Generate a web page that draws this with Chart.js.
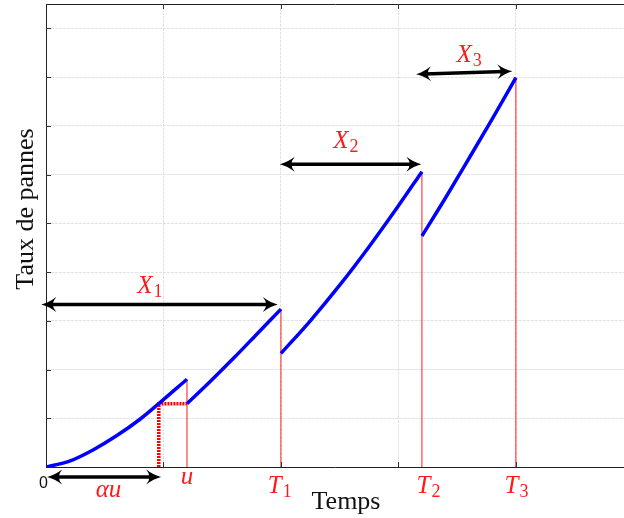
<!DOCTYPE html>
<html>
<head>
<meta charset="utf-8">
<script src="https://cdn.jsdelivr.net/npm/chart.js@4.4.0/dist/chart.umd.min.js"></script>
<style>
  html, body { margin: 0; padding: 0; background: #fff; }
</style>
</head>
<body>
<canvas id="chart" width="624" height="518"></canvas>
<script>
// failure rate between repairs, [time, rate]
const seg1 = [[0, 0], [0.2, 0.12], [0.4, 0.35], [0.6, 0.64], [0.8, 0.98], [0.96, 1.30], [1.2, 1.80]];
const seg2 = [[1.2, 1.30], [1.4, 1.76], [1.6, 2.24], [1.8, 2.74], [2.0, 3.24]];
const seg3 = [[2.0, 2.33], [2.25, 3.0], [2.5, 3.73], [2.75, 4.52], [3.0, 5.36], [3.2, 6.06]];
const seg4 = [[3.2, 4.74], [3.4, 5.52], [3.6, 6.33], [3.8, 7.15], [4.0, 7.99]];

// repair times and the rate reached just before each one
const repairTimes = [1.2, 2.0, 3.2, 4.0];
const repairTops = [1.80, 3.24, 6.06, 7.99];
const alphaU = 0.96;
const alphaLevel = 1.30;

// double arrows: start / end points
const arrowStart = [[-0.04, 3.335], [1.99, 6.21], [3.15, 8.06], [0.01, -0.205]];
const arrowEnd = [[1.973, 3.335], [3.195, 6.21], [3.97, 8.12], [0.98, -0.205]];

// labels under the axis and over the arrows
const tickLabels = [['\u03B1u', ''], ['u', ''], ['T', '1'], ['T', '2'], ['T', '3']];
const tickLabelAt = [[0.532, -0.616], [1.2, -0.355], [1.99, -0.54], [3.256, -0.54], [4.005, -0.54]];
const arrowLabels = [['X', '1'], ['X', '2'], ['X', '3']];
const arrowLabelAt = [[0.884, 3.566], [2.553, 6.54], [3.601, 8.32]];

const xMax = 4.92, yMax = 9.5;

const pts = s => s.map(p => ({ x: p[0], y: p[1] }));

const datasets = [];
[seg1, seg2, seg3, seg4].forEach(s => datasets.push({
  data: pts(s), borderColor: '#0000ff', borderWidth: 3.5, pointRadius: 0,
  cubicInterpolationMode: 'monotone', order: 0
}));
repairTimes.forEach((t, i) => datasets.push({
  data: [{ x: t, y: 0 }, { x: t, y: repairTops[i] }],
  borderColor: '#ff1a1a', borderWidth: 1, pointRadius: 0, order: 1
}));
datasets.push({
  data: [{ x: alphaU, y: 0 }, { x: alphaU, y: alphaLevel }, { x: repairTimes[0], y: alphaLevel }],
  borderColor: '#ff0000', borderWidth: 3.5, borderDash: [2, 1], pointRadius: 0, order: 1
});

function head(ctx, x, y, ang) {
  const L = 15, W = 7.5;
  ctx.save();
  ctx.translate(x, y);
  ctx.rotate(ang);
  ctx.beginPath();
  ctx.moveTo(0, 0);
  ctx.quadraticCurveTo(-L * 0.5, -W * 0.25, -L, -W);
  ctx.quadraticCurveTo(-L * 0.55, 0, -L, W);
  ctx.quadraticCurveTo(-L * 0.5, W * 0.25, 0, 0);
  ctx.fill();
  ctx.restore();
}

function mathLabel(ctx, main, sub, cx, base) {
  ctx.font = 'italic 25px "Liberation Serif"';
  const w1 = ctx.measureText(main).width;
  ctx.font = '18px "Liberation Serif"';
  const w2 = sub ? ctx.measureText(sub).width + 1 : 0;
  const x0 = cx - (w1 + w2) / 2;
  ctx.textAlign = 'left';
  ctx.textBaseline = 'alphabetic';
  ctx.font = 'italic 25px "Liberation Serif"';
  ctx.fillText(main, x0, base);
  if (sub) {
    ctx.font = '18px "Liberation Serif"';
    ctx.fillText(sub, x0 + w1 + 1, base + 4);
  }
}

const extras = {
  id: 'extras',
  afterDraw(chart) {
    const { ctx, chartArea: a, scales: { x, y } } = chart;
    ctx.save();

    // small inward tick marks
    ctx.strokeStyle = '#333';
    ctx.lineWidth = 1;
    ctx.beginPath();
    for (let v = 1; v <= 9; v++) {
      const py = Math.round(y.getPixelForValue(v)) + 0.5;
      ctx.moveTo(a.left, py); ctx.lineTo(a.left + 5, py);
    }
    for (let v = 1; v <= 4; v++) {
      const px = Math.round(x.getPixelForValue(v)) + 0.5;
      ctx.moveTo(px, a.top); ctx.lineTo(px, a.top + 5);
      ctx.moveTo(px, a.bottom); ctx.lineTo(px, a.bottom - 5);
    }
    ctx.stroke();

    // double arrows
    ctx.strokeStyle = '#000';
    ctx.fillStyle = '#000';
    ctx.lineWidth = 3.5;
    arrowStart.forEach((s, i) => {
      const e = arrowEnd[i];
      const x1 = x.getPixelForValue(s[0]), y1 = y.getPixelForValue(s[1]);
      const x2 = x.getPixelForValue(e[0]), y2 = y.getPixelForValue(e[1]);
      const ang = Math.atan2(y2 - y1, x2 - x1);
      const dx = Math.cos(ang) * 8, dy = Math.sin(ang) * 8;
      ctx.beginPath();
      ctx.moveTo(x1 + dx, y1 + dy);
      ctx.lineTo(x2 - dx, y2 - dy);
      ctx.stroke();
      head(ctx, x2, y2, ang);
      head(ctx, x1, y1, ang + Math.PI);
    });

    // red math labels
    ctx.fillStyle = '#ff1a1a';
    tickLabels.forEach((l, i) => {
      const p = tickLabelAt[i];
      mathLabel(ctx, l[0], l[1], x.getPixelForValue(p[0]), y.getPixelForValue(p[1]));
    });
    arrowLabels.forEach((l, i) => {
      const p = arrowLabelAt[i];
      mathLabel(ctx, l[0], l[1], x.getPixelForValue(p[0]), y.getPixelForValue(p[1]));
    });

    // origin label and axis titles
    ctx.fillStyle = '#111';
    ctx.font = '16px "Liberation Sans"';
    ctx.textAlign = 'center';
    ctx.textBaseline = 'middle';
    ctx.fillText('0', a.left - 2.5, a.bottom + 16.5);

    ctx.font = '26px "Liberation Serif"';
    ctx.textBaseline = 'alphabetic';
    ctx.fillText('Temps', 346, 509);
    ctx.translate(33, 209);
    ctx.rotate(-Math.PI / 2);
    ctx.fillText('Taux de pannes', 0, 0);
    ctx.restore();
  }
};

const gridStyle = { color: '#e2e2e2', drawTicks: false };
const borderStyle = { color: '#222', width: 1, dash: [3, 1] };

new Chart(document.getElementById('chart'), {
  type: 'line',
  data: { datasets },
  options: {
    responsive: false,
    animation: false,
    devicePixelRatio: 1,
    layout: { padding: { left: 46, top: 4, right: 0, bottom: 51 } },
    plugins: { legend: { display: false }, tooltip: { enabled: false } },
    scales: {
      x: {
        type: 'linear', min: 0, max: xMax,
        ticks: { display: false, stepSize: 1, includeBounds: false },
        grid: gridStyle, border: borderStyle
      },
      y: {
        type: 'linear', min: 0, max: yMax,
        ticks: { display: false, stepSize: 1, includeBounds: false },
        grid: gridStyle, border: borderStyle
      },
      xTop: {
        type: 'linear', position: 'top', min: 0, max: xMax,
        ticks: { display: false }, grid: { display: false, drawTicks: false },
        border: { color: '#222', width: 1 }
      }
    }
  },
  plugins: [extras]
});
</script>
</body>
</html>
